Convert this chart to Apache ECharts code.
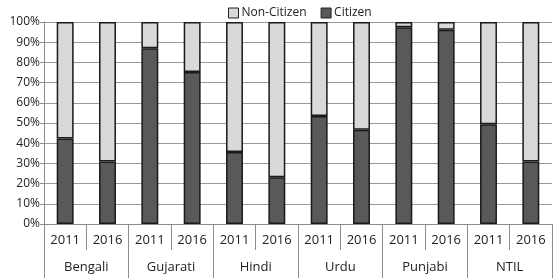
<!DOCTYPE html>
<html>
<head>
<meta charset="utf-8">
<script src="https://cdn.jsdelivr.net/npm/echarts@6/dist/echarts.min.js"></script>
<style>
  html, body { margin: 0; padding: 0; background: #fff; }
  #chart { width: 553px; height: 278px; }
</style>
</head>
<body>
<div id="chart"></div>
<script>
const languages = ['Bengali', 'Gujarati', 'Hindi', 'Urdu', 'Punjabi', 'NTIL'];
const years = ['2011', '2016'];
// citizen share (%) per language/year
const citizen = [42.3, 31.0, 87.0, 75.3, 35.6, 23.2, 53.5, 46.6, 97.4, 96.2, 49.4, 31.0];
const nonCitizen = citizen.map(v => +(100 - v).toFixed(1));
const yTicks = [0, 10, 20, 30, 40, 50, 60, 70, 80, 90, 100];

const yearCats = [];
languages.forEach(() => years.forEach(y => yearCats.push(y)));

const font = 'Open Sans';
const chart = echarts.init(document.getElementById('chart'));

chart.setOption({
  animation: false,
  textStyle: { fontFamily: font },
  legend: {
    top: 2,
    left: 223,
    itemWidth: 10,
    itemHeight: 10,
    itemGap: 14,
    icon: 'rect',
    data: ['Non-Citizen', 'Citizen'],
    textStyle: { fontSize: 12, color: '#222', fontFamily: font, padding: [0, 0, 0, -2] },
    itemStyle: { borderColor: '#222', borderWidth: 1 }
  },
  grid: { left: 44, right: 1, top: 22, bottom: 54 },
  xAxis: [
    {
      type: 'category',
      data: yearCats,
      axisLine: { show: true, lineStyle: { color: '#8c8c8c' } },
      axisTick: { show: true, alignWithLabel: false, interval: 0, length: 26, lineStyle: { color: '#8c8c8c' } },
      axisLabel: { color: '#222', fontSize: 13, margin: 10, interval: 0 }
    },
    {
      type: 'category',
      data: languages,
      position: 'bottom',
      axisLine: { show: false },
      axisTick: { show: true, alignWithLabel: false, interval: 0, length: 54, lineStyle: { color: '#8c8c8c' } },
      axisLabel: { color: '#222', fontSize: 13, margin: 37, interval: 0 }
    }
  ],
  yAxis: {
    type: 'value',
    min: yTicks[0],
    max: yTicks[yTicks.length - 1],
    interval: 10,
    axisLine: { show: true, lineStyle: { color: '#8c8c8c' } },
    axisTick: { show: true, length: 4, lineStyle: { color: '#8c8c8c' } },
    axisLabel: { color: '#222', fontSize: 12, margin: 4, formatter: '{value}%' },
    splitLine: { lineStyle: { color: '#9a9a9a' } }
  },
  series: [
    {
      name: 'Citizen',
      type: 'bar',
      stack: 'total',
      barWidth: '40%',
      data: citizen,
      itemStyle: { color: '#595959', borderColor: '#1a1a1a', borderWidth: 1.5 }
    },
    {
      name: 'Non-Citizen',
      type: 'bar',
      stack: 'total',
      barWidth: '40%',
      data: nonCitizen,
      itemStyle: { color: '#d9d9d9', borderColor: '#1a1a1a', borderWidth: 1.5 }
    }
  ]
});
</script>
</body>
</html>
